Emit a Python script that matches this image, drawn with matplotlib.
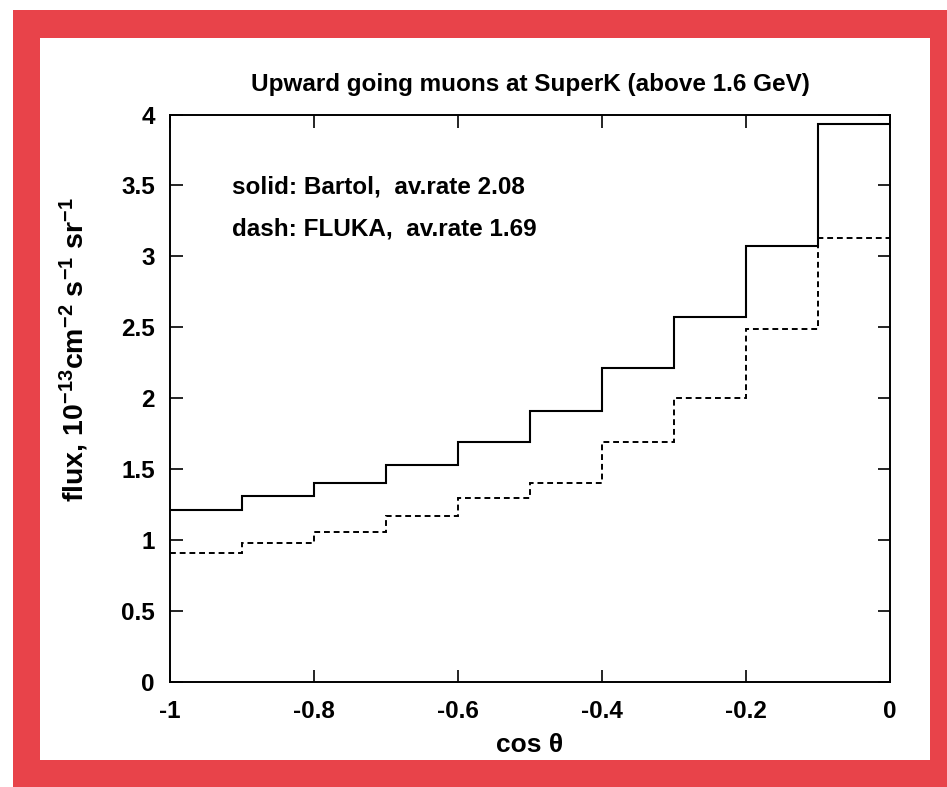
import matplotlib.pyplot as plt
from matplotlib.patches import Rectangle
import numpy as np

# Flusso di muoni verso l'alto a SuperK, bin in cos(theta)
bin_edges = [-1.0, -0.9, -0.8, -0.7, -0.6, -0.5, -0.4, -0.3, -0.2, -0.1, 0.0]
bartol = [1.215, 1.31, 1.405, 1.53, 1.69, 1.91, 2.21, 2.57, 3.07, 3.93]
fluka = [0.91, 0.98, 1.055, 1.17, 1.30, 1.40, 1.69, 2.00, 2.49, 3.13]

x_ticks = [-1, -0.8, -0.6, -0.4, -0.2, 0]
x_ticklabels = ['-1', '-0.8', '-0.6', '-0.4', '-0.2', '0']
y_ticks = [0, 0.5, 1, 1.5, 2, 2.5, 3, 3.5, 4]
y_ticklabels = ['0', '0.5', '1', '1.5', '2', '2.5', '3', '3.5', '4']

plt.rcParams['font.family'] = ['Liberation Sans', 'DejaVu Sans']
plt.rcParams['font.weight'] = 'bold'
plt.rcParams['mathtext.fontset'] = 'custom'
plt.rcParams['mathtext.rm'] = 'Liberation Sans:bold'
plt.rcParams['mathtext.default'] = 'rm'

fig = plt.figure(figsize=(9.47, 7.87), dpi=100)

# cornice rossa attorno al grafico (sotto gli assi)
red = '#e8434a'
fig.patches.append(Rectangle((13 / 947, 0), 934 / 947, 777 / 787,
                             transform=fig.transFigure, facecolor=red,
                             edgecolor='none', zorder=-2))
fig.patches.append(Rectangle((40 / 947, 1 - 760 / 787), 890 / 947, 722 / 787,
                             transform=fig.transFigure, facecolor='white',
                             edgecolor='none', zorder=-1))

ax = fig.add_axes([170 / 947, 1 - 682 / 787, 720 / 947, 567.5 / 787])
ax.patch.set_alpha(0)

ax.stairs(bartol, bin_edges, baseline=None, color='black', linewidth=1.5)
ax.stairs(fluka, bin_edges, baseline=None, color='black', linewidth=1.4,
          linestyle=(0, (3, 2)))

ax.set_xlim(-1, 0)
ax.set_ylim(0, 4)
ax.set_xticks(x_ticks)
ax.set_xticklabels(x_ticklabels)
ax.set_yticks(y_ticks)
ax.set_yticklabels(y_ticklabels)
ax.tick_params(direction='in', top=True, right=True, length=9, width=1.2,
               labelsize=17.5)
ax.tick_params(axis='x', pad=13)
ax.tick_params(axis='y', pad=11)
for s in ax.spines.values():
    s.set_linewidth(1.4)

ax.text(-0.914, 3.49, 'solid: Bartol,  av.rate 2.08', fontsize=17.5,
        fontweight='bold', va='center', ha='left')
ax.text(-0.914, 3.19, 'dash: FLUKA,  av.rate 1.69', fontsize=17.5,
        fontweight='bold', va='center', ha='left')

ax.set_title('Upward going muons at SuperK (above 1.6 GeV)', fontsize=17.5,
             fontweight='bold', pad=17)
ax.set_xlabel('cos θ', fontsize=19, fontweight='bold', labelpad=7)
ax.set_ylabel('flux, 10$^{-13}$cm$^{-2}$ s$^{-1}$ sr$^{-1}$', fontsize=20.5,
              fontweight='bold')
ax.yaxis.set_label_coords(-0.11, 0.585)

fig.savefig('out.png', dpi=100)
